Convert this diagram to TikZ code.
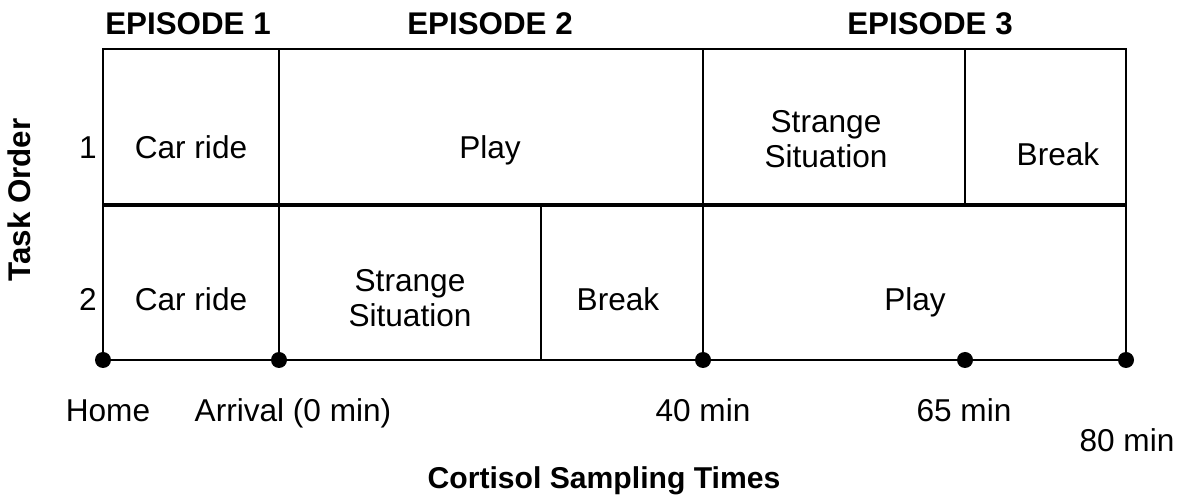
\documentclass[tikz,border=0pt]{standalone}
\usepackage{fontspec}
\setmainfont{Liberation Sans}
\begin{document}
\begin{tikzpicture}[x=0.75pt,y=-0.75pt,
  lbl/.style={font=\fontsize{23.7}{26.5}\selectfont, inner sep=0pt, align=center},
  tx/.style={lbl, anchor=base},
  head/.style={tx, font=\fontsize{23.5}{26.5}\selectfont\bfseries},
  frame/.style={line width=1.6pt},
  sub/.style={line width=1.1pt},
  divide/.style={line width=3.6pt},
  tick/.style={circle, fill=black, inner sep=0pt, minimum size=12pt}]
\useasboundingbox (0,0) rectangle (1189,498);

% grid corners
\coordinate (tl) at (103,49);
\coordinate (tr) at (1126,49);
\coordinate (ml) at (103,205);
\coordinate (mr) at (1126,205);

% sampling points on the time axis
\node[tick] (p0) at (103,360) {};
\node[tick] (p1) at (279,360) {};
\node[tick] (p2) at (703,360) {};
\node[tick] (p3) at (965,360) {};
\node[tick] (p4) at (1126,360) {};

% frame
\draw[frame] (p0.center) -- (tl) -- (tr) -- (p4.center) -- (p0.center);
\coordinate (t1) at (279,49);
\coordinate (t2) at (703,49);
\draw[frame] (t1) -- (p1.center);
\draw[frame] (t2) -- (p2.center);
\coordinate (t3) at (965,49);
\coordinate (m3) at (965,205);
\draw[sub] (t3) -- (m3);
\coordinate (m4) at (541,205);
\coordinate (b4) at (541,360);
\draw[sub] (m4) -- (b4);
\draw[divide] (ml) -- (mr);

% episode headings
\node[head] (e1) at (188,35) {EPISODE 1};
\node[head] (e2) at (490,35) {EPISODE 2};
\node[head] (e3) at (930,35) {EPISODE 3};

% task order
\node[lbl, font=\fontsize{23.5}{26.5}\selectfont\bfseries, rotate=90] (to) at (19,200) {Task Order};
\node[tx] (r1) at (88,159) {1};
\node[tx] (r2) at (88,311) {2};

% order 1
\node[tx] (a1) at (191,159) {Car ride};
\node[tx] (a2) at (490,159) {Play};
\node[lbl] (a3) at (826,139) {Strange\\Situation};
\node[tx] (a4) at (1058,166) {Break};

% order 2
\node[tx] (b1) at (191,311) {Car ride};
\node[lbl] (b2) at (410,298) {Strange\\Situation};
\node[tx] (b3) at (618,311) {Break};
\node[tx] (b5) at (915,311) {Play};

% sampling time labels
\node[tx] (h0) at (108,422) {Home};
\node[tx] (h1) at (293,422) {Arrival (0 min)};
\node[tx] (h2) at (703,422) {40 min};
\node[tx] (h3) at (964,422) {65 min};
\node[tx] (h4) at (1127,452) {80 min};
\node[head, font=\fontsize{22.6}{26}\selectfont\bfseries] (ax) at (604,489) {Cortisol Sampling Times};
\end{tikzpicture}
\end{document}
